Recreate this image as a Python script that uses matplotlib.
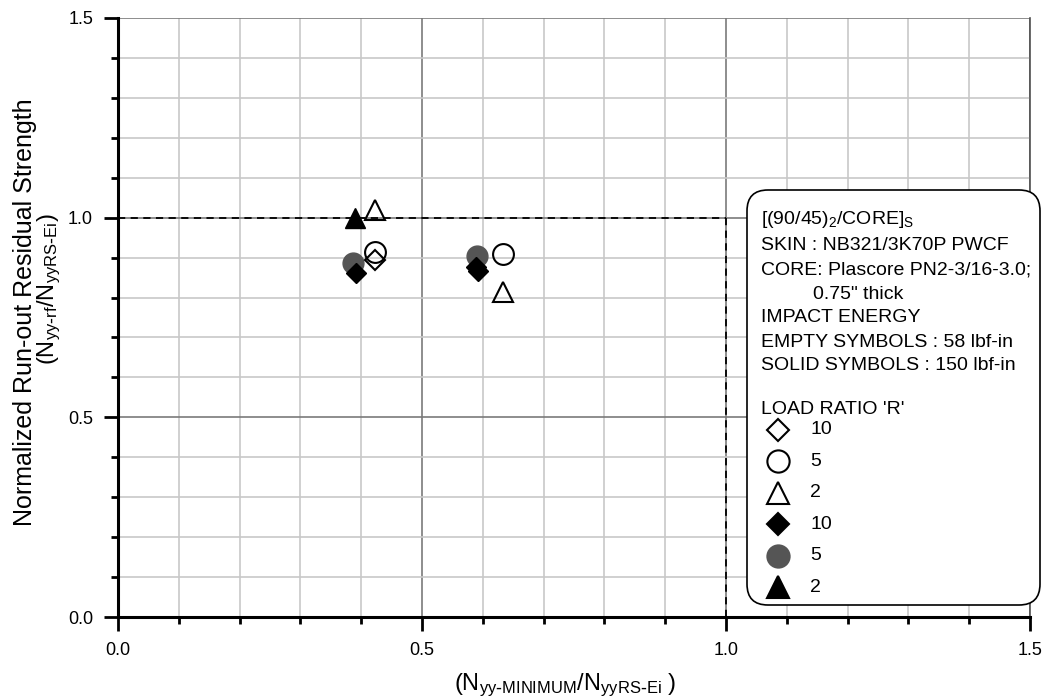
import numpy as np
import matplotlib
matplotlib.use('Agg')
import matplotlib.pyplot as plt
from matplotlib.patches import FancyBboxPatch
from matplotlib.lines import Line2D

plt.rcParams['font.family'] = ['Liberation Sans', 'DejaVu Sans']
plt.rcParams['mathtext.default'] = 'regular'

# Empty symbols : 58 lbf-in
open_r10_x = [0.423]
open_r10_y = [0.894]
open_r5_x = [0.423, 0.634]
open_r5_y = [0.913, 0.909]
open_r2_x = [0.423, 0.634]
open_r2_y = [1.020, 0.814]

# Solid symbols : 150 lbf-in
solid_r10_x = [0.391, 0.588, 0.592]
solid_r10_y = [0.861, 0.877, 0.866]
solid_r5_x = [0.387, 0.590]
solid_r5_y = [0.886, 0.905]
solid_r2_x = [0.390]
solid_r2_y = [1.000]

ticks = [0.0, 0.5, 1.0, 1.5]
tick_labels = ['0.0', '0.5', '1.0', '1.5']

W, H = 1045, 700
fig = plt.figure(figsize=(W / 100, H / 100), dpi=100)
ax = fig.add_axes([118 / W, 1 - 617 / H, (1030 - 118) / W, (617 - 18) / H])

ax.set_xlim(0, 1.5)
ax.set_ylim(0, 1.5)
ax.set_xticks(ticks)
ax.set_xticklabels(tick_labels, fontsize=13)
ax.set_yticks(ticks)
ax.set_yticklabels(tick_labels, fontsize=13)
ax.set_xticks(np.arange(0, 1.51, 0.1), minor=True)
ax.set_yticks(np.arange(0, 1.51, 0.1), minor=True)

ax.grid(which='minor', color='#c8c8c8', lw=1.2, zorder=0)
ax.grid(which='major', color='#7a7a7a', lw=1.2, zorder=0)
ax.set_axisbelow(True)

ax.tick_params(which='major', direction='out', length=10, width=2, pad=8)
ax.tick_params(which='minor', direction='out', length=5, width=2)

for s in ['left', 'bottom']:
    ax.spines[s].set_linewidth(2.2)
    ax.spines[s].set_color('black')
ax.spines['top'].set_visible(False)
ax.spines['right'].set_color('#505050')
ax.spines['right'].set_linewidth(1.2)

# reference lines
ax.plot([0, 1], [1, 1], ls=(0, (4, 3)), color='black', lw=1.3, zorder=2)
ax.plot([1, 1], [0, 1], ls=(0, (4, 3)), color='black', lw=1.3, zorder=2)

mew = 1.5
ax.plot(solid_r5_x, solid_r5_y, 'o', ms=15, mfc='#555555', mec='#555555', zorder=3)
ax.plot(solid_r10_x, solid_r10_y, 'D', ms=10, mfc='black', mec='black', zorder=4)
ax.plot(solid_r2_x, solid_r2_y, '^', ms=14.5, mfc='black', mec='black', zorder=4)
ax.plot(open_r10_x, open_r10_y, 'D', ms=10, mfc='none', mec='black', mew=mew, zorder=5)
ax.plot(open_r5_x, open_r5_y, 'o', ms=15, mfc='none', mec='black', mew=mew, zorder=5)
ax.plot(open_r2_x, open_r2_y, '^', ms=14.5, mfc='none', mec='black', mew=mew, zorder=5)

# axis titles
fig.text(565 / W, 1 - 690 / H, r'(N$_{yy\text{-}MINIMUM}$/N$_{yyRS\text{-}Ei}$ )',
         ha='center', va='baseline', fontsize=17)
fig.text(25 / W, 1 - 312 / H, 'Normalized Run-out Residual Strength',
         rotation=90, ha='center', va='center', fontsize=18)
fig.text(49 / W, 1 - 289 / H, r'(N$_{yy\text{-}rf}$/N$_{yyRS\text{-}Ei}$)',
         rotation=90, ha='center', va='center', fontsize=17)

# legend box
box = FancyBboxPatch((747 / W, 1 - 605 / H), (1040 - 747) / W, (605 - 190) / H,
                     boxstyle='round,pad=0,rounding_size=0.02',
                     transform=fig.transFigure, facecolor='white',
                     edgecolor='black', lw=1.2, zorder=10,
                     mutation_aspect=W / H)
fig.add_artist(box)

lines = [
    (761, 224, r'[(90/45)$_2$/CORE]$_S$'),
    (761, 250, 'SKIN : NB321/3K70P PWCF'),
    (761, 275, 'CORE: Plascore PN2-3/16-3.0;'),
    (813, 299, '0.75" thick'),
    (761, 322, 'IMPACT ENERGY'),
    (761, 347, 'EMPTY SYMBOLS : 58 lbf-in'),
    (761, 370, 'SOLID SYMBOLS : 150 lbf-in'),
    (761, 414, "LOAD RATIO 'R'"),
]
for x, y, t in lines:
    fig.text(x / W, 1 - y / H, t, ha='left', va='baseline', fontsize=14, zorder=11)

legend_items = [
    ('D', 11, 'none', 'black', '10'),
    ('o', 16, 'none', 'black', '5'),
    ('^', 15.5, 'none', 'black', '2'),
    ('D', 11, 'black', 'black', '10'),
    ('o', 16, '#555555', '#555555', '5'),
    ('^', 15.5, 'black', 'black', '2'),
]
for i, (m, ms, fc, ec, lab) in enumerate(legend_items):
    yy = 1 - (430 + 31.4 * i) / H
    fig.add_artist(Line2D([778 / W], [yy], marker=m, ms=ms, mfc=fc, mec=ec,
                          mew=mew, ls='none', transform=fig.transFigure, zorder=11))
    fig.text(810 / W, yy, lab, ha='left', va='center', fontsize=14, zorder=11)

fig.savefig('out.png', dpi=100)
